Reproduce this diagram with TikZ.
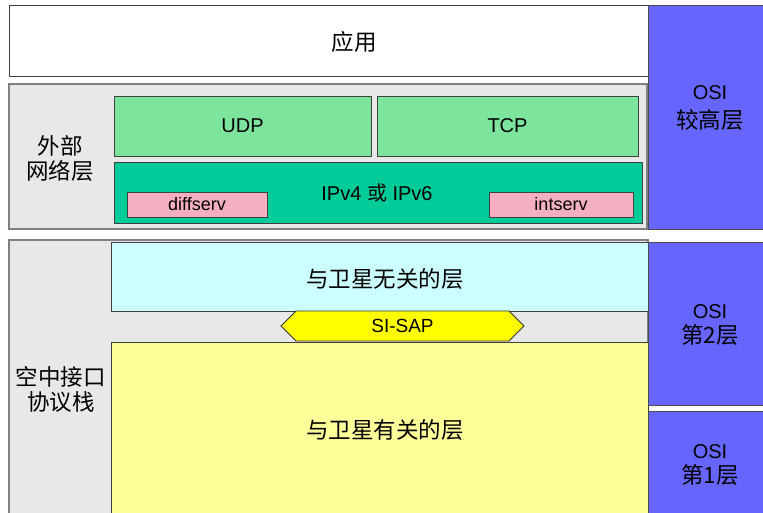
\documentclass[tikz,border=0pt]{standalone}
\usepackage{fontspec}
\setmainfont{Liberation Sans}
\newfontfamily\cjk{Noto Sans CJK SC}
\usetikzlibrary{shapes.symbols}
\definecolor{grayfill}{HTML}{E8E8E8}
\definecolor{udpgreen}{HTML}{7CE49C}
\definecolor{ipgreen}{HTML}{00CC99}
\definecolor{pinkbox}{HTML}{F4B0C0}
\definecolor{osiblue}{HTML}{6666FF}
\definecolor{cyanbox}{HTML}{CCFFFF}
\definecolor{lightyellow}{HTML}{FFFF99}
\definecolor{brightyellow}{HTML}{FFFF00}
\tikzset{
  box/.style={draw=black!75, line width=0.8pt, inner sep=0pt, outer sep=0pt},
  outerbox/.style={draw=black!50, line width=1.2pt, fill=grayfill, inner sep=0pt, outer sep=0pt},
  osibox/.style={draw=black!70, line width=0.8pt, fill=osiblue, inner sep=0pt, outer sep=0pt},
  lat/.style={font=\fontsize{20}{24}\selectfont},
  cjkt/.style={font=\cjk\fontsize{22.5}{25}\selectfont, align=center},
}
\begin{document}
\begin{tikzpicture}[x=1pt,y=-1pt]
\clip (0,0) rectangle (763,513);
\fill[white] (0,0) rectangle (763,513);
% upper part
\node[box, fill=white, minimum width=639pt, minimum height=71pt] (app) at (328.5,40.5) {};
\node[cjkt] (apptext) at (354,42) {应用};
\node[outerbox, minimum width=638pt, minimum height=145pt] (ext) at (328,156.5) {};
\node[cjkt] (exttext) at (60,158.5) {外部\\网络层};
\node[box, fill=udpgreen, minimum width=257pt, minimum height=60pt, lat] (udp) at (242.5,126) {UDP};
\node[box, fill=udpgreen, minimum width=261pt, minimum height=60pt, lat] (tcp) at (507.5,126) {TCP};
\node[box, fill=ipgreen, minimum width=528pt, minimum height=61pt] (ip) at (378,192.5) {};
\node[lat] (iptext) at (377,193) {IPv4 {\cjk 或} IPv6};
\node[box, fill=pinkbox, minimum width=140pt, minimum height=25pt, font=\fontsize{18}{20}\selectfont] (diff) at (197,204.5) {diffserv};
\node[box, fill=pinkbox, minimum width=144pt, minimum height=25pt, font=\fontsize{18}{20}\selectfont] (int) at (561,204.5) {intserv};
\node[osibox, minimum width=124pt, minimum height=224pt] (osih) at (710,117) {};
\node[cjkt] (osihtext) at (710,108) {{\fontspec{Liberation Sans}\fontsize{20}{24}\selectfont OSI}\\[4pt]较高层};
% lower part
\node[outerbox, minimum width=639pt, minimum height=290pt] (air) at (328.5,385) {};
\node[cjkt] (airtext) at (61,389) {空中接口\\协议栈};
\node[box, fill=cyanbox, minimum width=537pt, minimum height=69pt] (indep) at (379.5,276.5) {};
\node[cjkt] (indeptext) at (385,279) {与卫星无关的层};
\node[box, fill=lightyellow, minimum width=537pt, minimum height=176pt] (dep) at (379.5,430) {};
\node[cjkt] (deptext) at (385,430) {与卫星有关的层};
\node[box, draw=black!80, fill=brightyellow, shape=signal, signal to=west and east, signal pointer angle=90, minimum width=243pt, minimum height=30pt, font=\fontsize{19}{20}\selectfont] (sisap) at (402.5,326) {SI-SAP};
\node[osibox, minimum width=124pt, minimum height=163pt] (osi2) at (710,323.5) {};
\node[cjkt] (osi2text) at (710,325) {{\fontspec{Liberation Sans}\fontsize{20}{24}\selectfont OSI}\\第2层};
\node[osibox, minimum width=124pt, minimum height=108pt] (osi1) at (710,465) {};
\node[cjkt] (osi1text) at (710,465) {{\fontspec{Liberation Sans}\fontsize{20}{24}\selectfont OSI}\\第1层};
\end{tikzpicture}
\end{document}
